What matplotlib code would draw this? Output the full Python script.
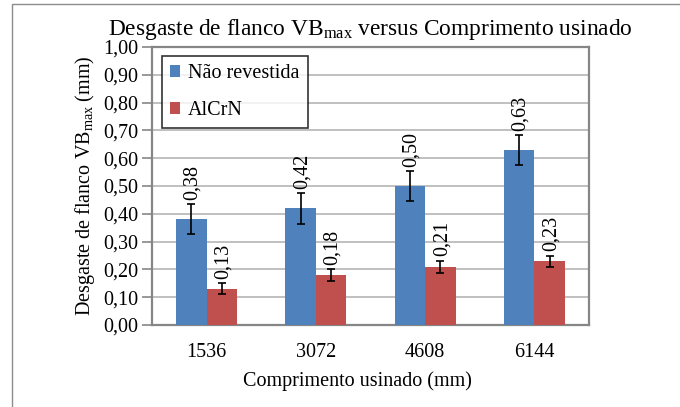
import matplotlib
matplotlib.use("Agg")
import matplotlib.pyplot as plt
import numpy as np
from matplotlib.patches import Rectangle

# data
comprimentos = ["1536", "3072", "4608", "6144"]
nao_revestida = [0.38, 0.42, 0.50, 0.63]
nao_revestida_err = [0.054, 0.055, 0.055, 0.054]
alcrn = [0.13, 0.18, 0.21, 0.23]
alcrn_err = [0.020, 0.021, 0.022, 0.020]
y_ticks = [0.0, 0.1, 0.2, 0.3, 0.4, 0.5, 0.6, 0.7, 0.8, 0.9, 1.0]

plt.rcParams["font.family"] = ["Liberation Serif", "DejaVu Serif"]
plt.rcParams["mathtext.fontset"] = "custom"
plt.rcParams["mathtext.rm"] = "Liberation Serif"
plt.rcParams["mathtext.it"] = "Liberation Serif:italic"

BLUE = "#4F81BD"
RED = "#C0504D"
FS = 14.5


def fmt(v):
    return f"{v:.2f}".replace(".", ",")


fig = plt.figure(figsize=(6.8, 4.07), dpi=100)
ax = fig.add_axes([152 / 680, 1 - 325 / 407, 437 / 680, 278 / 407])

x = np.arange(len(comprimentos))
w = 0.28
err_kw = dict(ecolor="black", elinewidth=1.2, capsize=3, capthick=1.2)
ax.bar(x - w / 2, nao_revestida, w, color=BLUE, yerr=nao_revestida_err,
       error_kw=err_kw, label="Não revestida", zorder=3)
ax.bar(x + w / 2, alcrn, w, color=RED, yerr=alcrn_err,
       error_kw=err_kw, label="AlCrN", zorder=3)

for xs, vals, errs in [(x - w / 2, nao_revestida, nao_revestida_err),
                       (x + w / 2, alcrn, alcrn_err)]:
    for xi, v, e in zip(xs, vals, errs):
        ax.annotate(fmt(v), (xi, v + e), xytext=(1, 3),
                    textcoords="offset points", rotation=90,
                    ha="center", va="bottom", fontsize=FS, zorder=4)

ax.set_xlim(-0.5, len(comprimentos) - 0.5)
ax.set_ylim(0, 1.0)
ax.set_yticks(y_ticks)
ax.set_yticklabels([fmt(t) for t in y_ticks], fontsize=FS)
ax.set_xticks(x)
ax.set_xticklabels(comprimentos, fontsize=FS)
ax.tick_params(axis="x", length=0, pad=13)
ax.tick_params(axis="y", length=7, width=1.2, color="#868686", pad=3)
ax.grid(axis="y", color="#b5b5b5", linewidth=1.2, zorder=0)
ax.set_axisbelow(True)
for s in ax.spines.values():
    s.set_color("#868686")
    s.set_linewidth(1.6)

ax.set_title(r"Desgaste de flanco VB$_{\mathrm{max}}$ versus Comprimento usinado",
             fontsize=16.8, pad=9)
ax.set_ylabel(r"Desgaste de flanco VB$_{\mathrm{max}}$ (mm)", fontsize=FS, labelpad=4)
ax.set_xlabel("Comprimento usinado (mm)", fontsize=FS)
ax.xaxis.set_label_coords(0.47, -0.168)

leg = ax.legend(loc="upper left", bbox_to_anchor=(0.023, 0.968), fontsize=FS,
                frameon=True, fancybox=False, edgecolor="black",
                handlelength=0.5, handleheight=0.5, handletextpad=0.4,
                labelspacing=0.9, borderpad=0.4, borderaxespad=0)
leg.get_frame().set_linewidth(1.2)

# outer chart frame (only top and left visible in the reference)
fig.add_artist(Rectangle((12 / 680, -0.1), 1.2, 1.1 - 4 / 407,
                         transform=fig.transFigure, fill=False,
                         edgecolor="#8c8c8c", linewidth=1.0))

fig.savefig("out.png", dpi=100)
